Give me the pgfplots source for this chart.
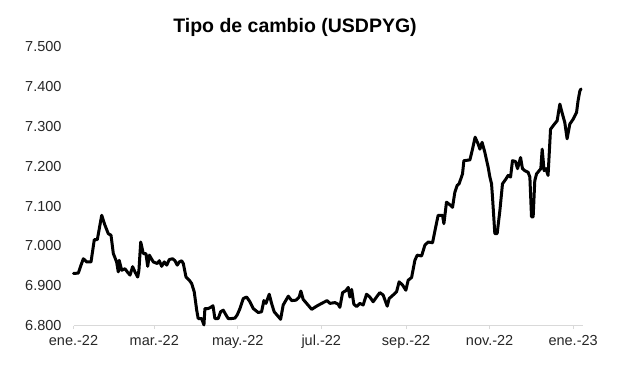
\documentclass[border=0pt]{standalone}
\usepackage{fontspec}
\setmainfont{Liberation Sans}
\usepackage{pgfplots}
\pgfplotsset{compat=1.18}
\begin{document}
\begin{tikzpicture}
\path[use as bounding box] (0,0) rectangle (617bp,377bp);
\begin{axis}[
  at={(73.5bp,51.3bp)}, anchor=south west,
  scale only axis, width=509.2bp, height=279bp,
  xmin=0, xmax=372, ymin=6800, ymax=7500,
  axis x line*=bottom, axis y line*=left,
  x axis line style={-, draw=black!15, line width=0.9bp},
  y axis line style={draw=none},
  xtick={0,59,120,181,243,304,365},
  xticklabels={ene.-22,mar.-22,may.-22,jul.-22,sep.-22,nov.-22,ene.-23},
  ytick={6800,6900,7000,7100,7200,7300,7400,7500},
  scaled y ticks=false,
  xtick style={draw=black!15, line width=0.9bp},
  ytick style={draw=none},
  tick align=outside, major tick length=3.5bp,
  ticklabel style={font=\fontsize{14.5bp}{16bp}\selectfont, text=black!85},
  xticklabel style={yshift=-2bp, text height=10.4bp, text depth=3bp},
  yticklabel style={xshift=-5bp},
  /pgf/number format/1000 sep={.},
  /pgf/number format/assume math mode=true,
  clip=false,
]
\addplot[black, line width=3bp, line join=round, line cap=round] coordinates {
(0,6931) (3.5,6932) (5.5,6952) (7.2,6968) (9.6,6960) (12.8,6960) (15.2,7016) (17.4,7016)
(20.6,7077) (23.0,7052) (25.4,7031) (27.4,7027) (29.1,6981) (31.5,6960) (32.7,6935) (33.4,6964)
(35.2,6939) (37.6,6943) (39.3,6935) (41.3,6927) (43.2,6948) (44.9,6935) (46.9,6922) (47.8,6939)
(49.1,7010) (51.0,6981) (52.9,6981) (54.2,6949) (55.4,6977) (58.3,6960) (61.2,6956) (62.7,6963)
(64.4,6949) (66.3,6960) (68.1,6952) (70.0,6966) (72.4,6968) (74.1,6963) (75.8,6952) (77.3,6960)
(79.0,6963) (80.2,6956) (82.2,6922) (84.6,6914) (86.3,6906) (88.2,6885) (90.0,6839) (91.1,6818)
(93.6,6818) (95.3,6802) (96.0,6843) (98.4,6843) (100.2,6846) (101.9,6850) (103.3,6818) (105.7,6818)
(107.5,6835) (109.4,6839) (111.4,6827) (113.0,6818) (115.5,6818) (117.9,6819) (119.6,6827) (121.6,6843)
(124.0,6868) (126.5,6872) (128.9,6860) (131.3,6843) (135.0,6833) (137.4,6835) (139.1,6863) (140.6,6856)
(143.0,6879) (144.7,6856) (146.6,6835) (149.6,6823) (151.3,6816) (153.2,6852) (156.9,6874) (159.4,6863)
(162.5,6864) (164.9,6872) (166.1,6887) (167.8,6866) (170.3,6856) (174.0,6841) (177.6,6849) (181.3,6856)
(185.3,6863) (187.3,6856) (191.0,6858) (193.4,6854) (194.6,6846) (196.6,6883) (199.0,6888) (200.7,6896)
(201.9,6872) (203.2,6891) (204.8,6854) (206.8,6848) (209.2,6856) (211.6,6852) (214.1,6879) (216.5,6872)
(218.9,6860) (221.4,6872) (223.8,6883) (226.2,6877) (229.2,6849) (230.6,6868) (233.5,6877) (236.0,6885)
(237.9,6910) (240.4,6902) (242.8,6889) (244.5,6914) (247.0,6921) (249.4,6964) (251.1,6977) (254.3,6975)
(256.7,7002) (259.1,7010) (262.3,7008) (264.7,7049) (266.4,7077) (269.6,7077) (270.6,7056) (272.5,7110)
(275.5,7102) (276.9,7097) (278.6,7135) (280.3,7152) (281.7,7156) (284.2,7181) (285.2,7214) (289.6,7216)
(291.5,7243) (293.4,7273) (295.6,7256) (296.9,7243) (298.5,7260) (300.5,7235) (302.9,7198) (304.2,7173)
(305.4,7156) (306.1,7123) (307.8,7031) (309.5,7031) (311.5,7089) (313.4,7156) (315.9,7168) (317.5,7177)
(319.3,7173) (320.7,7214) (322.9,7212) (324.4,7194) (326.6,7222) (328.0,7194) (329.7,7189) (332.1,7185)
(333.4,7173) (334.6,7073) (335.8,7073) (337.0,7164) (338.3,7181) (340.2,7189) (341.4,7194) (342.4,7243)
(343.8,7189) (345.1,7194) (346.7,7177) (348.5,7293) (350.9,7304) (353.3,7314) (355.3,7356) (357.2,7331)
(358.9,7310) (360.6,7269) (362.6,7306) (365.0,7318) (367.5,7335) (368.6,7364) (369.9,7389) (370.8,7394)
};
\end{axis}
\node[font=\bfseries\fontsize{19.5bp}{22bp}\selectfont, anchor=base] at (295bp,344bp) {Tipo de cambio (USDPYG)};
\end{tikzpicture}
\end{document}
